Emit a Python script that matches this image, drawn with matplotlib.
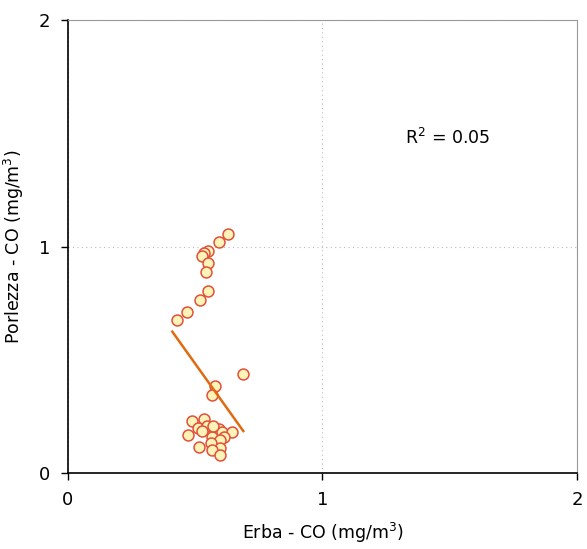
import numpy as np
import matplotlib
matplotlib.use("Agg")
import matplotlib.pyplot as plt

# Erba vs Porlezza CO concentrations (mg/m3)
erba = [0.630, 0.593, 0.551, 0.536, 0.525, 0.551, 0.541, 0.549, 0.517, 0.469, 0.427,
        0.689, 0.578, 0.565,
        0.486, 0.536, 0.510, 0.547, 0.473, 0.525, 0.593, 0.604, 0.643, 0.565,
        0.614, 0.597, 0.562, 0.515, 0.597, 0.565, 0.597, 0.570]
porlezza = [1.054, 1.021, 0.980, 0.973, 0.958, 0.926, 0.889, 0.804, 0.764, 0.712, 0.675,
            0.436, 0.384, 0.343,
            0.230, 0.238, 0.200, 0.209, 0.168, 0.185, 0.194, 0.182, 0.180, 0.160,
            0.160, 0.146, 0.131, 0.116, 0.109, 0.102, 0.079, 0.208]

# Linear trendline coefficients and fit quality
trend_slope = -1.573
trend_intercept = 1.269
r_squared = 0.05

x_ticks = [0, 1, 2]
y_ticks = [0, 1, 2]

fig = plt.figure(figsize=(5.87, 5.49), dpi=100)
ax = fig.add_axes([0.1158, 0.1384, 0.867, 0.8252])

ax.set_xlim(0, 2)
ax.set_ylim(0, 2)

ax.grid(True, linestyle=(0, (1, 3)), color="#bbbbbb", linewidth=0.8)
ax.set_axisbelow(True)

ax.scatter(erba, porlezza, s=62, facecolor="#fff3b8", edgecolor="#e0503a",
           linewidth=1.1, zorder=3)

tx = np.array([min(erba) - 0.017, max(erba)])
ax.plot(tx, trend_slope * tx + trend_intercept, color="#e06a10", linewidth=1.8, zorder=4)

ax.text(1.493, 1.479, f"R$^2$ = {r_squared:.2f}", ha="center", va="center", fontsize=12.5)

ax.set_xticks(x_ticks)
ax.set_yticks(y_ticks)
ax.tick_params(direction="out", length=5, width=1, labelsize=13, pad=8)

for side in ("left", "bottom"):
    ax.spines[side].set_color("black")
    ax.spines[side].set_linewidth(1.2)
ax.spines["top"].set_color("#999999")
ax.spines["top"].set_linestyle((0, (1, 1)))
ax.spines["top"].set_linewidth(0.8)
ax.spines["right"].set_color("#999999")
ax.spines["right"].set_linewidth(0.8)

ax.set_xlabel("Erba - CO (mg/m$^3$)", fontsize=12.5)
ax.set_ylabel("Porlezza - CO (mg/m$^3$)", fontsize=12.5)
ax.xaxis.set_label_coords(0.5, -0.105)
ax.yaxis.set_label_coords(-0.082, 0.5)

fig.savefig("out.png", dpi=100)
